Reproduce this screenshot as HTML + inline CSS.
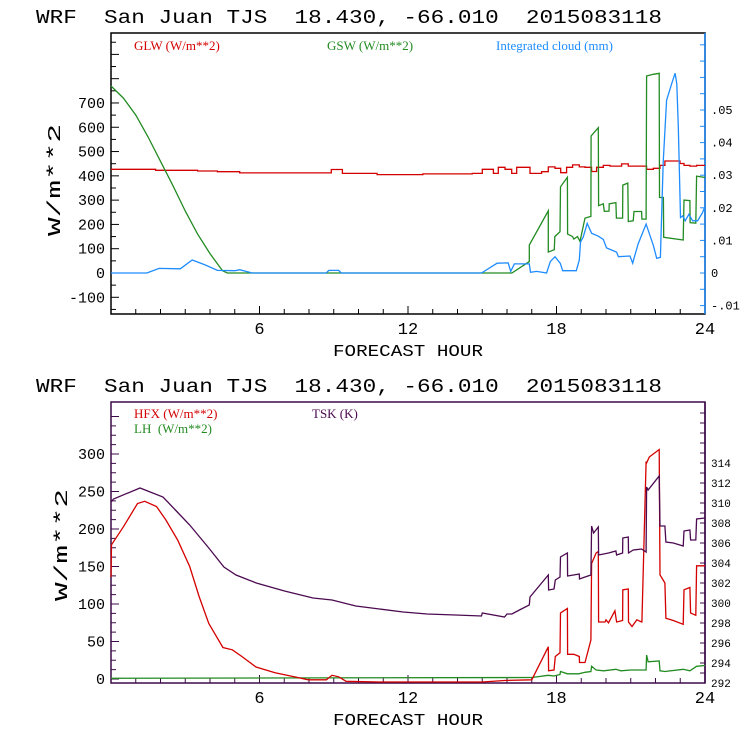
<!DOCTYPE html>
<html><head><meta charset="utf-8">
<style>
body{margin:0;background:#fff;}
svg{display:block;}
text{font-family:"Liberation Mono",monospace;white-space:pre;}
.lg{font-family:"Liberation Serif",serif;font-size:13px;}
</style></head>
<body>
<svg id="chart" width="740" height="740" viewBox="0 0 740 740" xmlns="http://www.w3.org/2000/svg" xml:space="preserve">
<rect width="740" height="740" fill="#fff"/>
<text x="36" y="23" font-size="19" textLength="626" lengthAdjust="spacingAndGlyphs">WRF  San Juan TJS  18.430, -66.010  2015083118</text>
<text x="36" y="392" font-size="19" textLength="626" lengthAdjust="spacingAndGlyphs">WRF  San Juan TJS  18.430, -66.010  2015083118</text>
<text x="408" y="356" font-size="17" text-anchor="middle" textLength="150" lengthAdjust="spacingAndGlyphs">FORECAST HOUR</text>
<text x="408" y="725" font-size="17" text-anchor="middle" textLength="150" lengthAdjust="spacingAndGlyphs">FORECAST HOUR</text>
<text transform="translate(60,180) rotate(-90)" font-size="18" text-anchor="middle" textLength="112" lengthAdjust="spacingAndGlyphs">W/m**2</text>
<text transform="translate(67,545) rotate(-90)" font-size="18" text-anchor="middle" textLength="112" lengthAdjust="spacingAndGlyphs">W/m**2</text>
<text class="lg" x="134" y="50" fill="#d40000">GLW (W/m**2)</text>
<text class="lg" x="327" y="50" fill="#228b22">GSW (W/m**2)</text>
<text class="lg" x="496" y="50" fill="#1e8cff">Integrated cloud (mm)</text>
<text class="lg" x="134" y="418" fill="#d40000">HFX (W/m**2)</text>
<text class="lg" x="134" y="433" fill="#228b22">LH  (W/m**2)</text>
<text class="lg" x="312" y="418" fill="#4b0a50">TSK (K)</text>
<g id="g"></g>
</svg>
<script>
// ---- data (forecast hour, value) ----
const glwT=[0,1.8,3.5,4.3,5.2,8.9,9.35,10.75,12.6,14.6,15.0,15.45,15.65,15.92,16.19,16.39,16.93,17.4,17.67,17.94,18.17,18.41,18.65,18.92,19.15,19.42,19.62,19.89,20.16,20.63,20.9,21.64,21.91,22.18,22.38,22.99,23.15,23.39,23.66,24];
const glwV=[427,423,420,417,412,426,410,405,408,410,427,410,435,427,410,435,410,417,437,431,413,435,445,437,435,418,435,443,440,449,440,427,431,443,461,451,443,440,443,443];
const gswT=[0,0.5,1,1.5,2,2.5,3,3.5,4,4.5,4.7,16.2,16.9,16.9,17.67,17.67,17.91,17.93,18.14,18.16,18.44,18.45,18.65,18.7,18.85,18.95,19.15,19.39,19.4,19.69,19.7,19.89,19.93,20.12,20.13,20.4,20.42,20.67,20.68,20.88,20.9,21.1,21.13,21.44,21.45,21.62,21.64,21.91,22.15,22.16,22.32,22.33,23.12,23.15,23.39,23.4,23.63,23.66,24];
const gswV=[770,720,650,560,460,360,255,160,80,10,0,0,47,115,256,86,96,150,170,355,394,160,150,140,150,130,226,233,564,598,277,285,254,255,285,290,226,226,362,370,212,215,253,253,222,222,811,818,822,311,311,147,136,300,298,207,205,399,393];
const cldT=[0,1.45,1.94,2.8,3.28,3.8,4.3,5.0,5.2,5.7,8.7,8.8,9.2,9.3,14.97,15.6,16.05,16.15,16.3,16.9,16.95,17.2,17.6,17.75,17.94,18.15,18.25,18.8,18.92,18.97,19.08,19.24,19.42,19.69,19.89,20.02,20.43,20.5,20.97,21.08,21.13,21.3,21.62,21.91,22.05,22.2,22.31,22.45,22.65,22.79,22.86,22.92,23.01,23.1,23.2,23.35,23.5,23.7,23.9,24];
const cldV=[0,0,0.0014,0.0013,0.004,0.0025,0.0008,0.0007,0.001,0,0,0.0008,0.0008,0,0,0.003,0.0031,0.0005,0.0028,0.0028,0.0002,0.0005,0,0.0035,0.005,0.003,0.0007,0.0007,0.004,0.0095,0.011,0.0152,0.0122,0.0113,0.0103,0.0077,0.0064,0.005,0.0052,0.003,0.0045,0.009,0.015,0.0085,0.0045,0.0048,0.034,0.053,0.058,0.0613,0.058,0.045,0.017,0.0175,0.016,0.018,0.016,0.016,0.0185,0.0205];
const hfxT=[0,0.02,0.5,1.07,1.36,1.84,2.22,2.7,3.18,3.56,3.95,4.52,4.9,5.29,5.86,6.63,7.4,7.97,8.7,8.93,9.2,9.5,10.85,15,15.9,17.0,17.67,17.68,17.9,17.95,18.14,18.16,18.44,18.45,18.7,18.92,18.93,19.15,19.39,19.42,19.6,19.69,19.7,19.96,20.0,20.1,20.36,20.43,20.67,20.68,20.9,20.91,21.05,21.25,21.44,21.45,21.62,21.64,21.75,22.15,22.18,22.38,22.42,22.72,23.12,23.15,23.39,23.42,23.63,23.66,24];
const hfxV=[136,179,203,234,237,230,212,185,150,110,74,42,39,30,16,8.4,3,-1,-1,5,3,-3,-4,-4,-2,-1,43,11,12,30,35,88,94,33,33,30,22,22,52,154,168,170,76,76,79,75,91,76,78,119,120,76,70,79,76,76,290,288,296,306,139,128,81,78,73,119,122,88,85,151,151];
const lhT=[0,17.0,17.67,17.9,18.14,18.16,18.44,18.7,18.9,19.15,19.39,19.42,19.6,19.9,20.4,20.6,21.0,21.62,21.64,21.7,22.15,22.18,22.38,23.12,23.39,23.66,24];
const lhV=[1,2,5,4,6,10,7,7,7,9,10,17,12,11,13,11,12,12,32,23,24,11,10,13,11,17,18];
const tskT=[0,0.1,1.17,2.1,2.6,3.18,3.95,4.56,5.05,5.87,7.01,8.16,8.93,9.89,10.85,11.8,12.77,13.92,14.97,15.0,15.9,16.0,16.2,16.5,16.9,16.93,17.67,17.68,17.9,17.95,18.14,18.16,18.44,18.45,18.92,18.93,19.15,19.39,19.42,19.5,19.69,19.7,20.1,20.4,20.43,20.67,20.68,20.9,20.91,21.1,21.44,21.62,21.64,21.7,22.15,22.18,22.38,22.42,22.72,23.12,23.15,23.39,23.42,23.63,23.66,24];
const tskV=[310.1,310.4,311.5,310.6,309.3,307.8,305.5,303.6,302.8,302.0,301.2,300.5,300.3,299.7,299.4,299.1,298.9,298.8,298.7,299.0,298.6,298.9,298.9,299.3,299.8,300.6,302.8,301.3,301.4,302.3,302.6,304.6,305.0,302.7,302.9,302.4,302.6,302.8,307.7,307.0,307.6,304.8,305.0,305.2,304.8,305.0,306.5,306.6,305.0,305.3,305.4,305.1,311.6,311.3,312.7,307.7,307.7,306.1,306.0,305.7,307.2,307.3,306.3,306.3,308.4,308.5];
// ---- axes ----
const X0=111,X1=705;
const xs=t=>X0+(t/24)*(X1-X0);
const topY=v=>273-v*0.2429;
const topR=v=>273-v*3260;
const botY=v=>679-v*0.75;
const botR=v=>683-(v-292)*10;
const xTicks=[6,12,18,24];
const topYTicks=[-100,0,100,200,300,400,500,600,700];
const topRTicks=[-0.01,0,0.01,0.02,0.03,0.04,0.05];
const topRLabels=["-.01","0",".01",".02",".03",".04",".05"];
const botYTicks=[0,50,100,150,200,250,300];
const botRTicks=[292,294,296,298,300,302,304,306,308,310,312,314];
const g=document.getElementById('g');
const NS="http://www.w3.org/2000/svg";
function mk(tag,at,parent){const e=document.createElementNS(NS,tag);for(const k in at)e.setAttribute(k,at[k]);(parent||g).appendChild(e);return e;}
function line(x1,y1,x2,y2,c,w){return mk('line',{x1,y1,x2,y2,stroke:c,'stroke-width':w||1});}
function txt(x,y,s,sz,anc,fill){const e=mk('text',{x,y,'font-size':sz,'text-anchor':anc,fill:fill||'#000'});e.textContent=s;return e;}
function series(T,V,fy,color,name,step){
  let d='';
  for(let i=0;i<T.length;i++){
    const x=xs(T[i]),y=fy(V[i]);
    if(i==0)d+='M'+x.toFixed(1)+','+y.toFixed(1);
    else{ if(step)d+='L'+x.toFixed(1)+','+fy(V[i-1]).toFixed(1); d+='L'+x.toFixed(1)+','+y.toFixed(1);}
  }
  const p=mk('path',{d,fill:'none',stroke:color,'stroke-width':1.3});
  
  
}
function panel(top,bot,boxColor,rightColor,fyL,yTicks,yMinor,fyR,rTicks,rLabels,rMinor,rFont){
  for(let h=1;h<24;h++){const x=xs(h);line(x,bot,x,bot-(h%6==0?8:5),boxColor);}
  xTicks.forEach(h=>{const e=txt(xs(h),bot+20,String(h),17,'middle');});
  for(let v=yMinor[0];v<=yMinor[1];v+=yMinor[2]){const y=fyL(v);if(y>top+1&&y<bot-1)line(X0,y,X0+(v%yMinor[3]==0?8:5),y,boxColor);}
  yTicks.forEach(v=>{const e=txt(X0-6,fyL(v)+5,String(v),15,'end');});
  for(let v=rMinor[0];v<=rMinor[1]+1e-9;v+=rMinor[2]){const y=fyR(v);if(y>top+1&&y<bot-1)line(X1,y,X1-5,y,rightColor);}
  rTicks.forEach((v,i)=>{const e=txt(X1+6,fyR(v)+4,rLabels[i],rFont,'start');});
  const r=mk('rect',{x:X0,y:top,width:X1-X0,height:bot-top,fill:'none',stroke:boxColor,'stroke-width':1.5});
  
  
  line(X1,top,X1,bot,rightColor,1.5);
}
panel(33,314,'#000','#1e8cff',topY,topYTicks,[-150,950,50,100],topR,topRTicks,topRLabels,[-0.01,0.075,0.005],12);
series(glwT,glwV,topY,'#d40000','glw-line',true);
series(gswT,gswV,topY,'#228b22','gsw-line',false);
series(cldT,cldV,topR,'#1e8cff','cloud-line',false);
panel(402,683,'#3d0a48','#3d0a48',botY,botYTicks,[0,350,12.5,50],botR,botRTicks,botRTicks.map(String),[292,319,1],11);
series(lhT,lhV,botY,'#228b22','lh-line',false);
series(hfxT,hfxV,botY,'#d40000','hfx-line',false);
series(tskT,tskV,botR,'#4b0a50','tsk-line',false);
</script>
</body></html>
